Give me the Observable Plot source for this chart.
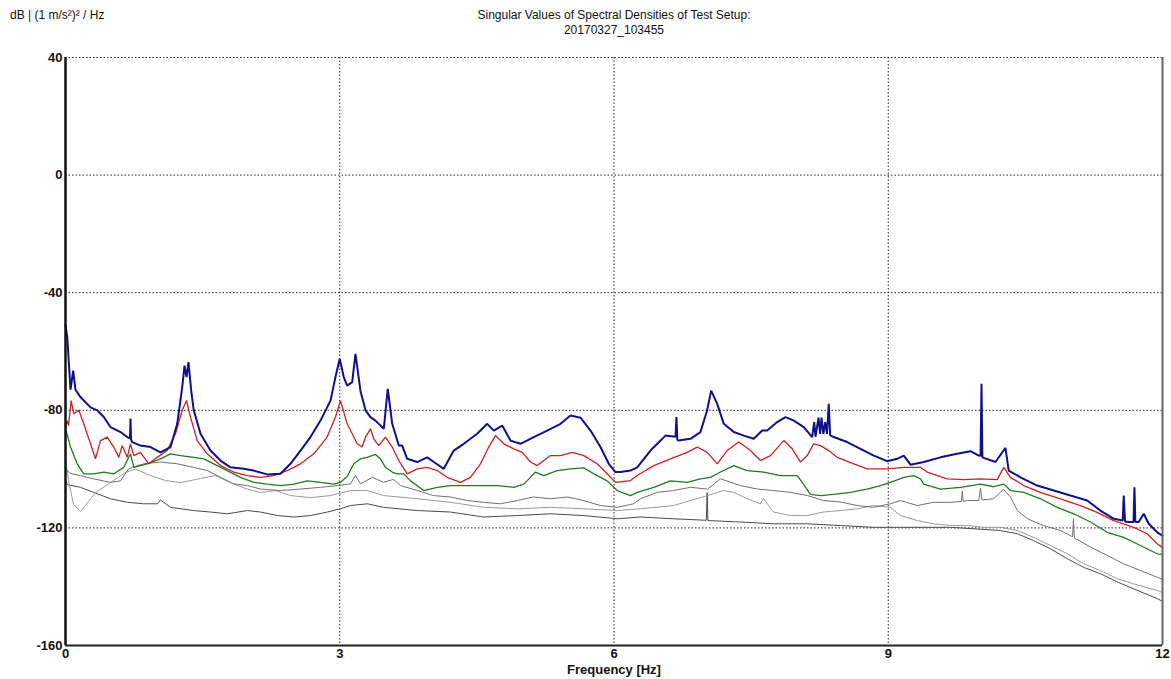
<!DOCTYPE html>
<html>
<head>
<meta charset="utf-8">
<script src="https://cdn.jsdelivr.net/npm/d3@7"></script>
<script src="https://cdn.jsdelivr.net/npm/@observablehq/plot@0.6"></script>
<style>
  html, body { margin: 0; padding: 0; background: #fff; }
  #wrap { position: relative; width: 1171px; height: 679px; font-family: "Liberation Sans", Arial, sans-serif; color: #111; }
  .lbl { position: absolute; white-space: nowrap; font-size: 12px; line-height: 15px; }
  #title { left: 0; width: 1228px; text-align: center; top: 8px; }
  #ylab { left: 10px; top: 8px; }
  #xlab { left: 0; width: 1228px; text-align: center; top: 662px; font-weight: bold; font-size: 13px; }
  #chart { position: absolute; left: 0; top: 0; }
</style>
</head>
<body>
<div id="wrap">
  <div id="chart"></div>
  <div class="lbl" id="ylab">dB | (1 m/s²)² / Hz</div>
  <div class="lbl" id="title">Singular Values of Spectral Densities of Test Setup:<br>20170327_103455</div>
  <div class="lbl" id="xlab">Frequency [Hz]</div>
</div>
<script>
// Tick values
const xTicks = [0, 3, 6, 9, 12];
const yTicks = [40, 0, -40, -80, -120, -160];

// Series: [frequency Hz, dB]
const sv1 = [[0,-51],[0.019,-55],[0.055,-73],[0.084,-66.5],[0.109,-73],[0.164,-75.5],[0.273,-79],[0.347,-80],[0.419,-82.3],[0.492,-85.7],[0.602,-87.4],[0.675,-89.1],[0.705,-89.5],[0.711,-82.8],[0.717,-90],[0.730,-90.8],[0.820,-92],[0.930,-92.5],[1.039,-94.3],[1.149,-92.5],[1.222,-84.6],[1.277,-72.1],[1.302,-64.8],[1.324,-68.7],[1.345,-63.6],[1.375,-73.3],[1.403,-80],[1.477,-88],[1.586,-93.7],[1.696,-97.1],[1.805,-99.4],[1.950,-99.9],[2.056,-100.5],[2.206,-101.8],[2.352,-101.6],[2.461,-98.2],[2.571,-93.7],[2.680,-89.1],[2.789,-83.5],[2.899,-76.7],[2.953,-68.7],[3.000,-62.5],[3.044,-68.7],[3.081,-71.6],[3.136,-70.4],[3.172,-60.8],[3.227,-73.5],[3.282,-80],[3.336,-82.3],[3.391,-83.5],[3.446,-85.2],[3.482,-86.3],[3.525,-72.7],[3.574,-84.6],[3.646,-92],[3.683,-92],[3.738,-96.5],[3.847,-97.6],[3.956,-96],[4.029,-97.6],[4.138,-99.9],[4.247,-93.7],[4.357,-91.4],[4.503,-88],[4.613,-84.6],[4.685,-86.9],[4.777,-85.2],[4.868,-90.3],[4.977,-91.4],[5.122,-89.1],[5.269,-86.9],[5.415,-84.6],[5.524,-81.8],[5.633,-82.5],[5.743,-86.9],[5.852,-92.5],[5.943,-98.2],[6.016,-101],[6.071,-101],[6.180,-100.5],[6.254,-99.4],[6.399,-93.7],[6.509,-90.3],[6.563,-88.6],[6.673,-89],[6.683,-82.3],[6.693,-90],[6.708,-90.3],[6.836,-89.7],[6.946,-87.4],[7.019,-80],[7.063,-73.3],[7.129,-77.8],[7.201,-84.6],[7.310,-87.4],[7.420,-88.6],[7.529,-89.7],[7.621,-86.9],[7.676,-86.9],[7.785,-84],[7.876,-82.3],[7.967,-83.5],[8.076,-85.7],[8.168,-89.1],[8.19,-84],[8.204,-89],[8.237,-82.5],[8.255,-88],[8.27,-82.5],[8.29,-88],[8.31,-84],[8.33,-88],[8.349,-77.8],[8.365,-88.5],[8.404,-89.1],[8.550,-90.8],[8.696,-93.1],[8.842,-95.4],[8.988,-97.3],[9.098,-96.5],[9.170,-95.4],[9.243,-98.5],[9.389,-97.6],[9.571,-96],[9.754,-94.8],[9.899,-93.9],[9.990,-95.4],[10.010,-95.5],[10.020,-71],[10.030,-96],[10.045,-96.2],[10.173,-97.6],[10.282,-92.8],[10.318,-100.5],[10.446,-102.8],[10.629,-105.6],[10.811,-107.3],[10.993,-109],[11.176,-110.7],[11.321,-114.1],[11.467,-116.9],[11.565,-117.5],[11.576,-109],[11.590,-117.8],[11.631,-118],[11.683,-118],[11.693,-106.2],[11.703,-118],[11.740,-118],[11.795,-115.2],[11.850,-118.6],[11.942,-121.5],[12.0,-122.6]];

const sv2 = [[0,-86],[0.019,-83.5],[0.033,-85.2],[0.062,-76.7],[0.091,-81.2],[0.146,-80],[0.200,-84.6],[0.273,-91.4],[0.328,-96.5],[0.383,-90.3],[0.456,-89.1],[0.528,-92.5],[0.583,-96],[0.620,-92],[0.675,-96],[0.711,-91.4],[0.747,-95.4],[0.820,-94.3],[0.911,-98.2],[1.003,-96],[1.112,-93.7],[1.203,-88],[1.277,-80],[1.324,-76.7],[1.367,-82.3],[1.441,-90.3],[1.550,-94.8],[1.696,-98.8],[1.841,-101],[1.987,-102.2],[2.133,-102.8],[2.278,-102.2],[2.425,-100.5],[2.571,-98.2],[2.716,-94.8],[2.862,-89.1],[2.953,-82.3],[3.008,-76.7],[3.081,-84.6],[3.191,-91.4],[3.245,-92.5],[3.282,-89.1],[3.336,-86.3],[3.372,-89.7],[3.427,-92],[3.500,-89.1],[3.574,-92.5],[3.646,-97.1],[3.738,-101.6],[3.847,-99.9],[3.956,-99.4],[4.066,-100.5],[4.175,-102.8],[4.321,-104.5],[4.430,-102.8],[4.540,-98.2],[4.630,-92.5],[4.704,-88.6],[4.794,-91.4],[4.904,-93.1],[4.996,-94.3],[5.086,-97.6],[5.160,-98.8],[5.232,-97.1],[5.305,-95.4],[5.415,-95.4],[5.543,-94.3],[5.669,-95.4],[5.816,-98.2],[5.925,-101.6],[6.016,-104.5],[6.180,-103.9],[6.254,-102.2],[6.435,-98.8],[6.618,-96.5],[6.800,-94.3],[6.910,-92.5],[7.019,-94.3],[7.129,-98.2],[7.238,-93.7],[7.365,-90.8],[7.493,-93.7],[7.602,-97.1],[7.712,-95.4],[7.857,-90.3],[7.949,-93.1],[8.040,-97.6],[8.113,-95.4],[8.185,-91.4],[8.259,-92],[8.349,-93.7],[8.441,-96],[8.623,-98.2],[8.769,-99.9],[8.988,-99.9],[9.170,-99.4],[9.353,-99.4],[9.426,-101],[9.645,-103.3],[9.827,-103.6],[10.009,-103.3],[10.191,-103.6],[10.264,-99.4],[10.336,-102.8],[10.482,-105.6],[10.665,-107.9],[10.883,-110.1],[11.102,-112.4],[11.284,-114.7],[11.467,-117.5],[11.686,-119.8],[11.832,-122],[11.942,-125.4],[12,-126.7]];

const sv3 = [[0,-86],[0.011,-87.4],[0.055,-92.5],[0.128,-98.2],[0.200,-101.6],[0.310,-101.6],[0.419,-101],[0.528,-101.6],[0.638,-99.4],[0.711,-94.8],[0.747,-99.4],[0.894,-98.2],[1.039,-96.5],[1.149,-94.8],[1.258,-95.4],[1.403,-96],[1.513,-96.5],[1.622,-98.2],[1.769,-100.5],[1.914,-102.8],[2.060,-104.5],[2.206,-105.1],[2.352,-105.6],[2.497,-105.1],[2.644,-104],[2.789,-104.5],[2.935,-105.1],[3.008,-104.5],[3.081,-102.5],[3.154,-98.2],[3.227,-96.5],[3.300,-96],[3.391,-95],[3.446,-96.5],[3.500,-99.4],[3.574,-101],[3.628,-101.6],[3.700,-101.6],[3.774,-104],[3.919,-107.3],[4.066,-106.2],[4.211,-105.6],[4.357,-105.6],[4.540,-105.6],[4.722,-105.6],[4.904,-106.2],[5.013,-105.1],[5.086,-102.8],[5.141,-101],[5.232,-102.2],[5.378,-100.5],[5.524,-99.9],[5.669,-99.6],[5.779,-101.6],[5.925,-104],[6.035,-107.3],[6.180,-109],[6.254,-107.9],[6.435,-106.2],[6.618,-104],[6.800,-104.5],[6.946,-103.3],[7.055,-102.8],[7.165,-101],[7.310,-98.8],[7.457,-100.5],[7.638,-101],[7.821,-102.2],[8.004,-102.2],[8.059,-104.5],[8.149,-108.6],[8.259,-109],[8.404,-108.6],[8.587,-107.9],[8.769,-106.8],[8.915,-105.6],[9.024,-104.5],[9.170,-102.8],[9.279,-102.2],[9.353,-103.3],[9.389,-105.1],[9.571,-106.8],[9.790,-106.2],[10.009,-105.1],[10.155,-106],[10.264,-105.1],[10.336,-107.3],[10.482,-107.9],[10.665,-110.1],[10.848,-113],[11.029,-115.2],[11.212,-118],[11.394,-121.5],[11.576,-123.2],[11.759,-126],[11.942,-128.8],[12,-129]];

const sv4 = [[0,-100],[0.055,-101.5],[0.164,-102.2],[0.306,-103.3],[0.492,-104.5],[0.602,-104],[0.689,-100],[0.733,-99.4],[0.853,-98.2],[1.039,-97.6],[1.225,-98.2],[1.400,-99.4],[1.553,-100.5],[1.696,-102.8],[1.838,-105],[1.991,-105.6],[2.133,-106.8],[2.352,-107.3],[2.571,-106.8],[2.789,-106.2],[2.975,-105.6],[3.117,-105],[3.172,-102.2],[3.227,-105],[3.358,-102.8],[3.478,-104.5],[3.588,-103.5],[3.664,-105.6],[3.850,-107.3],[4.025,-109],[4.211,-109.5],[4.397,-110.7],[4.572,-111.3],[4.758,-111.8],[4.944,-110.7],[5.119,-109.5],[5.305,-110.1],[5.491,-109.5],[5.666,-110.7],[5.852,-112.4],[6.038,-113],[6.213,-111.8],[6.289,-110.1],[6.475,-107.9],[6.650,-107.3],[6.836,-106.2],[7.022,-106.8],[7.165,-103.3],[7.383,-105.6],[7.569,-106.8],[7.744,-107.3],[7.930,-107.9],[8.116,-109],[8.291,-110.7],[8.477,-111.2],[8.663,-112.4],[8.838,-113],[9.024,-111.8],[9.133,-110.7],[9.319,-112.4],[9.494,-111.3],[9.680,-111.3],[9.800,-111],[9.810,-107.5],[9.820,-111],[9.866,-110.7],[9.990,-110.7],[10.009,-106.5],[10.025,-110.5],[10.151,-110.1],[10.228,-107.9],[10.260,-106.8],[10.337,-109.5],[10.413,-114.1],[10.523,-116.9],[10.698,-119.2],[10.884,-120.9],[11.016,-123],[11.026,-117],[11.036,-123.4],[11.212,-126.5],[11.398,-129.4],[11.573,-132.2],[11.759,-134.5],[11.945,-136.8],[12,-137.5]];

const sv5 = [[0,-96],[0.033,-104],[0.088,-112],[0.164,-114.4],[0.252,-111],[0.328,-108],[0.492,-104.6],[0.656,-101.2],[0.766,-100],[0.930,-102.2],[1.094,-103.9],[1.258,-104.6],[1.477,-103.2],[1.641,-102.2],[1.805,-104.6],[1.969,-106.6],[2.133,-108],[2.297,-107.3],[2.461,-109],[2.680,-109.7],[2.899,-109],[3.117,-107.3],[3.303,-107.3],[3.478,-109],[3.850,-110.1],[4.211,-111.3],[4.572,-113],[4.944,-113.5],[5.305,-113],[5.666,-113.5],[6.038,-114.1],[6.289,-113.5],[6.650,-112.4],[6.836,-110.7],[7.022,-109],[7.197,-107.3],[7.307,-107.9],[7.460,-110.1],[7.602,-111.8],[7.635,-110],[7.744,-114.6],[7.930,-115.8],[8.116,-115.8],[8.291,-114.6],[8.477,-114.1],[8.663,-113.5],[8.838,-112.4],[9.024,-113],[9.133,-115.8],[9.319,-117.5],[9.494,-118.6],[9.680,-119.2],[9.866,-119.2],[10.042,-119.8],[10.228,-119.8],[10.413,-120.9],[10.588,-123.2],[10.774,-126],[10.960,-128.8],[11.135,-132.2],[11.321,-134.5],[11.507,-137.3],[11.682,-139],[11.945,-141.3],[12,-142]];

const sv6 = [[0,-104],[0.022,-105.3],[0.164,-106.2],[0.306,-107.9],[0.492,-110.1],[0.678,-111.3],[0.853,-111.8],[1.006,-111.8],[1.039,-110.5],[1.149,-113],[1.400,-114.1],[1.586,-114.6],[1.772,-115.2],[1.991,-114.1],[2.133,-114.6],[2.319,-115.8],[2.494,-116.3],[2.680,-115.8],[2.866,-114.6],[3.008,-113.5],[3.117,-112.4],[3.303,-111.8],[3.478,-113],[3.850,-114.1],[4.211,-114.6],[4.572,-116.3],[4.944,-115.8],[5.305,-115.2],[5.666,-115.8],[6.038,-116.9],[6.289,-116.3],[6.650,-116.9],[7.010,-117.4],[7.019,-108],[7.028,-117.5],[7.383,-118],[7.744,-118.6],[8.116,-118.6],[8.477,-119.2],[8.838,-119.8],[9.133,-119.8],[9.680,-119.8],[10.228,-120.9],[10.413,-122],[10.588,-124.3],[10.774,-127.1],[10.960,-130.5],[11.135,-133.4],[11.321,-135.6],[11.507,-138.4],[11.682,-140.7],[11.945,-144.1],[12,-145]];

const series = [
  {data: sv6, color: "#4a4a4a", width: 1},
  {data: sv5, color: "#9a9a9a", width: 1},
  {data: sv4, color: "#707070", width: 1},
  {data: sv3, color: "#1e7b1e", width: 1.3},
  {data: sv2, color: "#cc2020", width: 1.3},
  {data: sv1, color: "#10108c", width: 2}
];

const dotted = {stroke: "#222", strokeOpacity: 1, strokeWidth: 1, strokeDasharray: "1.5,2"};

const chart = Plot.plot({
  width: 1171,
  height: 679,
  marginLeft: 65,
  marginRight: 9,
  marginTop: 57,
  marginBottom: 34,
  style: {fontFamily: "'Liberation Sans', Arial, sans-serif", background: "#fff", color: "#111"},
  x: {domain: [0, 12]},
  y: {domain: [-160, 40]},
  marks: [
    Plot.gridX([3, 6, 9], dotted),
    Plot.gridY([40, 0, -40, -80, -120], dotted),
    ...series.map(s => Plot.line(s.data, {x: d => d[0], y: d => d[1], stroke: s.color, strokeWidth: s.width, strokeLinejoin: "miter"})),
    Plot.ruleX([12], {stroke: "#666", strokeWidth: 2}),
    Plot.ruleY([-160], {stroke: "#222", strokeWidth: 2}),
    Plot.ruleX([0], {stroke: "#111", strokeWidth: 2.5}),
    Plot.axisX({ticks: xTicks, tickFormat: d => String(d), tickSize: 0, tickPadding: 3, label: null, fontSize: 13, fontWeight: "bold"}),
    Plot.axisY({ticks: yTicks, tickFormat: d => String(d), tickSize: 0, tickPadding: 3, label: null, fontSize: 13, fontWeight: "bold"})
  ]
});
document.getElementById("chart").appendChild(chart);
</script>
</body>
</html>
